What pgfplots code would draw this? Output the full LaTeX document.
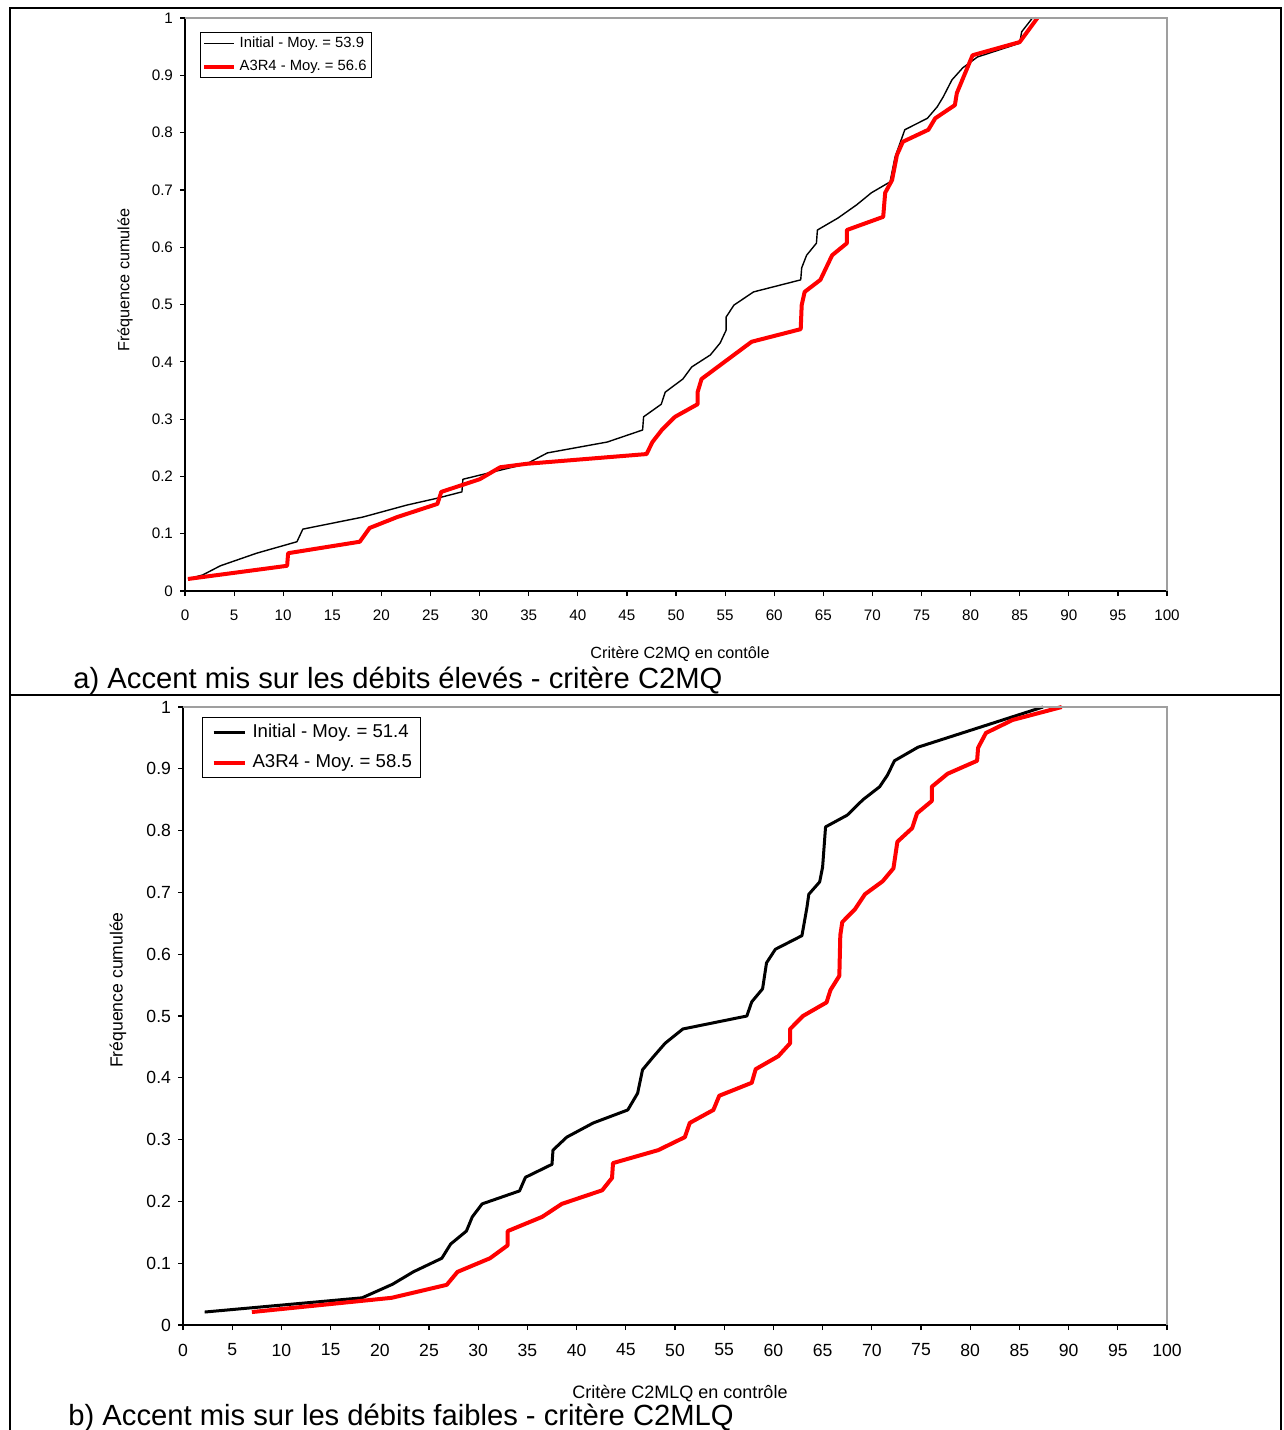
\documentclass[border=0pt]{standalone}
\usepackage{pgfplots}
\pgfplotsset{compat=1.18}
\usepackage{fontspec}
\setmainfont{Liberation Sans}
\setsansfont{Liberation Sans}
\frenchspacing

\pgfplotsset{
 excel/.style={
  scale only axis,
  xmin=0,xmax=100,ymin=0,ymax=1,
  axis x line*=bottom, axis y line*=left,
  axis line style={black, line width=0.6pt, -},
  xtick={0,5,10,15,20,25,30,35,40,45,50,55,60,65,70,75,80,85,90,95,100},
  ytick={0,0.1,0.2,0.3,0.4,0.5,0.6,0.7,0.8,0.9,1},
  tick align=outside, major tick length=2.5pt,
  tick style={black, line width=0.6pt},
  /pgf/number format/assume math mode=true,
  yticklabel style={/pgf/number format/fixed, /pgf/number format/precision=1},
  clip=false,
  legend cell align=left,
 }
}

\begin{document}
\frenchspacing
\begin{tikzpicture}
\path[use as bounding box] (0,0) rectangle (642pt,-715pt);
% frame
\draw[black, line width=1pt] (5pt,-715pt) -- (5pt,-4pt) -- (640.5pt,-4pt) -- (640.5pt,-715pt);
\draw[black, line width=1pt] (5pt,-347.5pt) -- (640.5pt,-347.5pt);

% ---------- panel a ----------
\begin{axis}[excel,
  at={(92.5pt,-295.5pt)}, anchor=south west,
  width=491pt, height=286.5pt,
  ticklabel style={font=\fontsize{7.6}{9}\selectfont},
  xticklabel style={yshift=-3.5pt},
  legend image code/.code={\draw[#1] (0pt,0pt) -- (15pt,0pt);},
  legend style={at={(rel axis cs:0,1)}, anchor=north west, xshift=7.5pt, yshift=-7pt,
    draw=black, line width=0.5pt, font=\fontsize{7.4}{9}\selectfont,
    inner sep=1pt, row sep=3pt, nodes={inner xsep=1.6pt, inner ysep=1pt}},
]
\addplot[black, line width=0.7pt, line join=round] coordinates {
(0.3,0.021) (1.8,0.028) (3.6,0.044) (7.3,0.066) (11.4,0.086) (12.0,0.108)
(18.1,0.129) (22.6,0.150) (25.7,0.162) (28.2,0.173) (28.3,0.195) (31.4,0.208)
(34.8,0.222) (36.9,0.241) (43.0,0.260) (46.6,0.281) (46.7,0.304) (48.5,0.326)
(48.9,0.347) (50.7,0.370) (51.6,0.391) (53.5,0.412) (54.5,0.433) (55.1,0.455)
(55.1,0.478) (55.9,0.499) (57.9,0.522) (62.7,0.543) (62.8,0.564) (63.3,0.586)
(64.3,0.607) (64.4,0.630) (66.5,0.651) (68.4,0.674) (69.9,0.695) (71.8,0.714)
(72.3,0.757) (73.3,0.805) (75.6,0.825) (76.6,0.845) (77.2,0.862) (78.1,0.892)
(79.2,0.913) (80.7,0.932) (85.0,0.956) (85.2,0.976) (86.3,1.0)
};
\addlegendentry{Initial - Moy. = 53.9}
\addplot[red, line width=2pt, line join=round] coordinates {
(0.3,0.021) (10.4,0.044) (10.5,0.066) (17.8,0.086) (18.8,0.110) (21.6,0.129)
(25.7,0.152) (26.1,0.173) (30.0,0.195) (32.1,0.216) (34.8,0.222) (47.0,0.239)
(47.6,0.260) (48.6,0.282) (49.9,0.304) (52.2,0.326) (52.2,0.347) (52.6,0.370)
(57.7,0.435) (62.7,0.457) (62.8,0.499) (63.1,0.522) (64.7,0.543) (65.9,0.586)
(67.4,0.607) (67.4,0.630) (71.1,0.653) (71.3,0.695) (72.0,0.717) (72.5,0.761)
(73.1,0.784) (75.7,0.805) (76.4,0.825) (78.4,0.848) (78.6,0.869) (80.2,0.935)
(85.0,0.958) (86.8,1.0)
};
\addlegendentry{A3R4 - Moy. = 56.6}
\draw[gray!75, line width=1pt] (rel axis cs:0,1) -- (rel axis cs:1,1) -- (rel axis cs:1,0);
\end{axis}
\node[rotate=90, font=\fontsize{8.1}{10}\selectfont] at (62.5pt,-140pt) {Fréquence cumulée};
\node[font=\fontsize{8.1}{10}\selectfont] at (340pt,-327pt) {Critère C2MQ en contôle};
\node[anchor=west, font=\fontsize{14.6}{17}\selectfont, inner sep=0pt] at (36.5pt,-340.5pt) {a) Accent mis sur les débits élevés - critère C2MQ};

% ---------- panel b ----------
\begin{axis}[excel,
  at={(91.5pt,-662.5pt)}, anchor=south west,
  width=492pt, height=309pt,
  ticklabel style={font=\fontsize{8.8}{10}\selectfont},
  xticklabel style={yshift=-3.4pt},
  legend image code/.code={\path (0pt,0pt); \draw[#1] (3pt,0pt) -- (18.5pt,0pt);},
  legend style={at={(rel axis cs:0,1)}, anchor=north west, xshift=9.5pt, yshift=-5pt,
    draw=black, line width=0.5pt, font=\fontsize{9.3}{11}\selectfont,
    inner sep=1.5pt, row sep=3pt, nodes={inner xsep=3pt, inner ysep=2pt}},
]
\addplot[black, line width=1.5pt, line join=round] coordinates {
(2.2,0.021) (18.2,0.044) (21.3,0.066) (23.4,0.086) (26.3,0.108) (27.2,0.131)
(28.8,0.152) (29.4,0.175) (30.4,0.196) (34.2,0.217) (34.8,0.239) (37.5,0.260)
(37.6,0.283) (39.0,0.304) (41.7,0.327) (45.2,0.348) (46.2,0.375) (46.7,0.413)
(47.8,0.434) (49.0,0.456) (50.8,0.479) (57.3,0.500) (57.8,0.523) (58.9,0.544)
(59.3,0.586) (60.2,0.608) (62.9,0.630) (63.4,0.675) (63.6,0.697) (64.7,0.717)
(65.0,0.741) (65.3,0.806) (67.5,0.825) (69.1,0.850) (70.8,0.871) (71.6,0.890)
(72.3,0.913) (74.7,0.935) (87.4,1.0)
};
\addlegendentry{Initial - Moy. = 51.4}
\addplot[red, line width=2pt, line join=round] coordinates {
(7.0,0.021) (21.2,0.044) (26.8,0.065) (27.9,0.086) (31.2,0.108) (33.0,0.129)
(33.0,0.152) (36.5,0.175) (38.5,0.196) (42.6,0.218) (43.6,0.238) (43.7,0.262)
(48.3,0.283) (51.0,0.304) (51.5,0.327) (53.9,0.348) (54.5,0.371) (57.8,0.392)
(58.2,0.414) (60.5,0.435) (61.7,0.456) (61.7,0.479) (63.0,0.500) (65.4,0.522)
(65.8,0.542) (66.7,0.565) (66.8,0.631) (67.0,0.652) (68.3,0.673) (69.3,0.697)
(71.1,0.718) (72.2,0.739) (72.6,0.782) (74.1,0.804) (74.6,0.828) (76.1,0.848)
(76.1,0.871) (77.7,0.892) (80.7,0.913) (80.8,0.934) (81.6,0.958) (84.3,0.979)
(89.3,1.0)
};
\addlegendentry{A3R4 - Moy. = 58.5}
\draw[gray!75, line width=1pt] (rel axis cs:0,1) -- (rel axis cs:1,1) -- (rel axis cs:1,0);
\end{axis}
\node[rotate=90, font=\fontsize{8.8}{10}\selectfont] at (59pt,-495pt) {Fréquence cumulée};
\node[font=\fontsize{9}{11}\selectfont] at (340pt,-697pt) {Critère C2MLQ en contrôle};
\node[anchor=west, font=\fontsize{14.6}{17}\selectfont, inner sep=0pt] at (34pt,-709pt) {b) Accent mis sur les débits faibles - critère C2MLQ};
\end{tikzpicture}
\end{document}
